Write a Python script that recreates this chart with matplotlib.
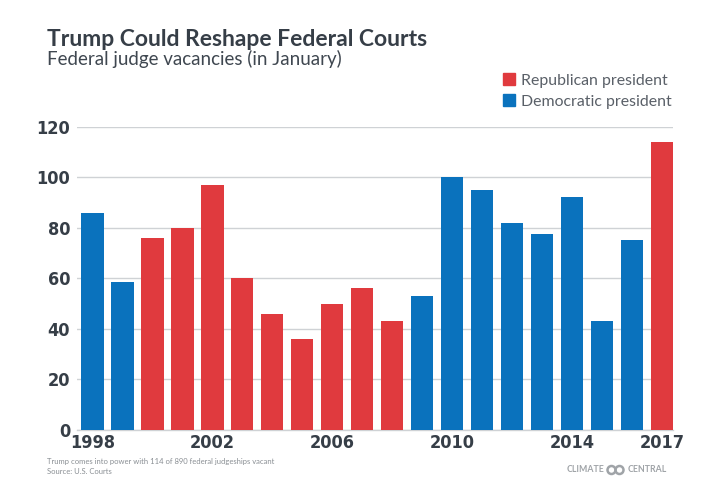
import matplotlib
matplotlib.use("Agg")
import matplotlib.pyplot as plt
from matplotlib.patches import Rectangle, Circle

# Federal judge vacancies in January, by year
years = list(range(1998, 2018))
vacancies = [86, 58.5, 76, 80, 97, 60, 46, 36, 50, 56,
             43, 53, 100, 95, 82, 77.5, 92, 43, 75, 114]
party = ['D', 'D', 'R', 'R', 'R', 'R', 'R', 'R', 'R', 'R',
         'R', 'D', 'D', 'D', 'D', 'D', 'D', 'D', 'D', 'R']
label_years = [1998, 2002, 2006, 2010, 2014, 2017]
yticks = [0, 20, 40, 60, 80, 100, 120]

RED = '#e03a3e'
BLUE = '#0a72bd'
DARK = '#363e47'
TEXT_FONT = ['Lato', 'DejaVu Sans']

fig = plt.figure(figsize=(7.2, 4.92), dpi=100)
fig.patch.set_facecolor('white')
ax = fig.add_axes([77 / 720, 1 - 430 / 492, (673 - 77) / 720, (430 - 126.7) / 492])

x = list(range(len(years)))
colors = [RED if p == 'R' else BLUE for p in party]
ax.bar(x, vacancies, width=0.74, color=colors, zorder=3)

ax.set_ylim(0, 120)
ax.set_xlim(-0.52, len(years) - 1 + 0.37)
ax.set_yticks(yticks)
ax.set_yticklabels([str(v) for v in yticks])
ax.set_xticks([years.index(y) for y in label_years])
ax.set_xticklabels([str(y) for y in label_years])

ax.grid(axis='y', color='#cfd2d5', linewidth=1, zorder=0)
for s in ['top', 'right', 'left']:
    ax.spines[s].set_visible(False)
ax.spines['bottom'].set_color('#cfd2d5')
ax.spines['bottom'].set_linewidth(1)
ax.tick_params(axis='both', length=0, colors=DARK)
ax.tick_params(axis='y', pad=5)
ax.tick_params(axis='x', pad=3)
for lab in ax.get_xticklabels() + ax.get_yticklabels():
    lab.set_family('DejaVu Sans')
    lab.set_fontstretch('condensed')
    lab.set_fontweight('bold')
    lab.set_fontsize(13)
    lab.set_color(DARK)

# titles
fig.text(47 / 720, 1 - 45.5 / 492, 'Trump Could Reshape Federal Courts',
         family=TEXT_FONT, fontweight='bold', fontsize=16.5, color=DARK, va='baseline')
fig.text(47 / 720, 1 - 64.5 / 492, 'Federal judge vacancies (in January)',
         family=TEXT_FONT, fontsize=13.5, color='#3f4750', va='baseline')

# legend
for (ytop, col, txt, base) in [(72.7, RED, 'Republican president', 85),
                                (94, BLUE, 'Democratic president', 105.7)]:
    fig.patches.append(Rectangle((502.7 / 720, 1 - (ytop + 12) / 492), 12 / 720, 12 / 492,
                                 transform=fig.transFigure, color=col, figure=fig))
    fig.text(521 / 720, 1 - base / 492, txt, family=TEXT_FONT, fontsize=11.4,
             color='#5a6068', va='baseline')

# footer
fig.text(47 / 720, 1 - 461.7 / 492, 'Trump comes into power with 114 of 890 federal judgeships vacant',
         family=TEXT_FONT, fontsize=5.5, color='#8a8f94', va='center')
fig.text(47 / 720, 1 - 471.7 / 492, 'Source: U.S. Courts',
         family=TEXT_FONT, fontsize=5.5, color='#8a8f94', va='center')

# logo
fig.text(604 / 720, 1 - 470 / 492, 'CLIMATE', family=TEXT_FONT, fontweight='bold',
         fontsize=6.3, color='#a0a4a8', va='center', ha='right')
fig.text(628 / 720, 1 - 470 / 492, 'CENTRAL', family=TEXT_FONT, fontweight='bold',
         fontsize=6.3, color='#a0a4a8', va='center', ha='left')
for cx in (611.5, 619.5):
    fig.patches.append(Circle((cx / 100, (492 - 470) / 100), 0.04, fill=False,
                              linewidth=1.8, edgecolor='#a0a4a8',
                              transform=fig.dpi_scale_trans, figure=fig))

fig.savefig('out.png', dpi=100, facecolor='white')
